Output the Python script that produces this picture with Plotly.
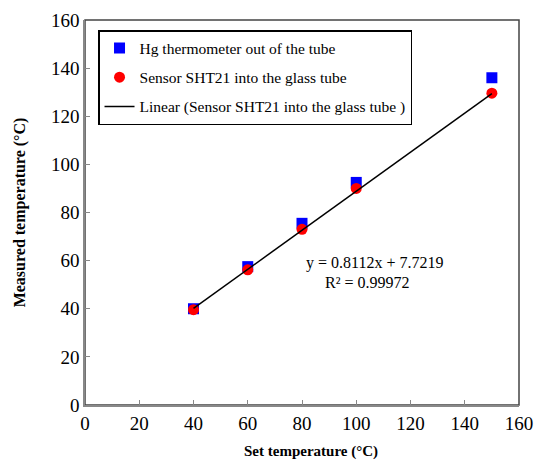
import plotly.graph_objects as go

set_temp = [40, 60, 80, 100, 150]
hg_vals = [40.0, 57.5, 75.5, 92.5, 136.0]
sht_vals = [39.6, 56.2, 73.0, 90.0, 129.6]
slope, intercept = 0.8112, 7.7219
fit_x = [40, 150]
fit_y = [slope * x + intercept for x in fit_x]
tick_vals = [0, 20, 40, 60, 80, 100, 120, 140, 160]

serif = "Liberation Serif"

fig = go.Figure()
fig.add_trace(go.Scatter(x=set_temp, y=hg_vals, mode="markers",
                         name="Hg thermometer out of the tube", legendgroup="a",
                         marker=dict(symbol="square", color="#0000FF", size=11)))
fig.add_trace(go.Scatter(x=set_temp, y=sht_vals, mode="markers",
                         name="Sensor SHT21 into the glass tube", legendgroup="b",
                         marker=dict(symbol="circle", color="#FF0000", size=11)))
fig.add_trace(go.Scatter(x=fit_x, y=fit_y, mode="lines",
                         name="Linear (Sensor SHT21 into the glass tube )", legendgroup="c",
                         line=dict(color="black", width=1.5)))

fig.add_annotation(x=0.666, y=0.369, xref="paper", yref="paper",
                   text="y = 0.8112x + 7.7219", showarrow=False, yanchor="middle",
                   font=dict(family=serif, size=16, color="black"))
fig.add_annotation(x=0.65, y=0.317, xref="paper", yref="paper",
                   text="R² = 0.99972", showarrow=False, yanchor="middle",
                   font=dict(family=serif, size=16, color="black"))
fig.add_annotation(x=0.52, y=-0.122, xref="paper", yref="paper",
                   text="<b>Set temperature (°C)</b>", showarrow=False,
                   xanchor="center", yanchor="middle",
                   font=dict(family=serif, size=15, color="black"))

fig.update_layout(
    width=536, height=462,
    margin=dict(l=85, r=17, t=20, b=57),
    paper_bgcolor="white", plot_bgcolor="white",
    font=dict(family=serif, color="black"),
    showlegend=True,
    legend=dict(x=0.03, y=0.974, xanchor="left", yanchor="top",
                bordercolor="black", borderwidth=1.5, bgcolor="white",
                tracegroupgap=6,
                font=dict(family=serif, size=15.5, color="black")),
    xaxis=dict(range=[0, 160], tickvals=tick_vals, ticks="inside", ticklen=5,
               tickcolor="#888888", showgrid=False, zeroline=False, automargin=False,
               showline=True, linecolor="#888888", linewidth=1.5, mirror=False,
               tickfont=dict(family=serif, size=19)),
    yaxis=dict(range=[0, 160], tickvals=tick_vals, ticks="inside", ticklen=5,
               tickcolor="#888888", showgrid=False, zeroline=False, automargin=False,
               showline=True, linecolor="#888888", linewidth=1.5,
               tickfont=dict(family=serif, size=19),
               title=dict(text="<b>Measured temperature (°C)</b>", standoff=21,
                          font=dict(family=serif, size=16))),
)
fig.add_shape(type="rect", xref="paper", yref="paper", x0=0, y0=0, x1=1, y1=1,
              line=dict(color="#444444", width=1.5), layer="below")

fig.write_html("out.html", config={"displayModeBar": False},
               post_script="document.body.style.margin='0';document.body.style.overflow='hidden';")
